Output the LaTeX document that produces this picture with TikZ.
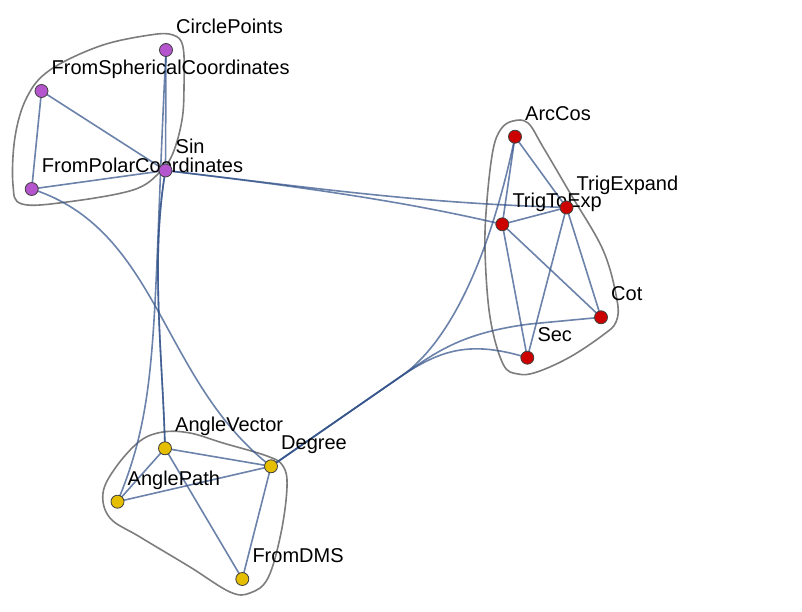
\documentclass[tikz,border=0pt]{standalone}
\usepackage{fontspec}
\setmainfont{Liberation Sans}
\definecolor{edgec}{RGB}{50,82,138}
\definecolor{hullc}{RGB}{125,125,125}
\definecolor{purp}{RGB}{180,85,205}
\definecolor{redn}{RGB}{205,0,0}
\definecolor{yelln}{RGB}{230,190,0}
\pgfdeclarelayer{hulls}
\pgfdeclarelayer{edges}
\pgfdeclarelayer{labels}
\pgfsetlayers{hulls,edges,labels,main}
\begin{document}
\begin{tikzpicture}[x=1pt,y=-1pt,
  edge/.style={draw=edgec, line width=1.6pt, draw opacity=0.72},
  hull/.style={draw=hullc, line width=1.6pt},
  vert/.style={circle, draw=black!75, line width=0.8pt, minimum size=13pt, inner sep=0pt},
  lab/.style={anchor=base west, inner sep=0pt, font=\fontsize{20}{23}\selectfont}]
\useasboundingbox (0,0) rectangle (802,612);
% vertices
\node[vert, fill=purp] (cp) at (166,50) {};
\node[vert, fill=purp] (fs) at (41.5,91) {};
\node[vert, fill=purp] (fp) at (31.7,189) {};
\node[vert, fill=purp] (sin) at (165.5,170.5) {};
\node[vert, fill=redn] (ac) at (515,136.7) {};
\node[vert, fill=redn] (tx) at (566.5,207.5) {};
\node[vert, fill=redn] (te) at (502.3,224.3) {};
\node[vert, fill=redn] (cot) at (601,317.3) {};
\node[vert, fill=redn] (sec) at (527.3,357.7) {};
\node[vert, fill=yelln] (av) at (165,448.3) {};
\node[vert, fill=yelln] (deg) at (271,466.3) {};
\node[vert, fill=yelln] (ap) at (117.5,501.7) {};
\node[vert, fill=yelln] (dms) at (242.3,579) {};
% labels
\begin{pgfonlayer}{labels}
\node[lab] (lcp) at ([shift={(10,-16.5)}]cp.center) {CirclePoints};
\node[lab] (lfs) at ([shift={(10,-16.5)}]fs.center) {FromSphericalCoordinates};
\node[lab] (lfp) at ([shift={(10,-16.5)}]fp.center) {FromPolarCoordinates};
\node[lab] (lsin) at ([shift={(10,-16.5)}]sin.center) {Sin};
\node[lab] (lac) at ([shift={(10,-16.5)}]ac.center) {ArcCos};
\node[lab] (ltx) at ([shift={(10,-16.5)}]tx.center) {TrigExpand};
\node[lab] (lte) at ([shift={(10,-16.5)}]te.center) {TrigToExp};
\node[lab] (lcot) at ([shift={(10,-16.5)}]cot.center) {Cot};
\node[lab] (lsec) at ([shift={(10,-16.5)}]sec.center) {Sec};
\node[lab] (lav) at ([shift={(10,-16.5)}]av.center) {AngleVector};
\node[lab] (ldeg) at ([shift={(10,-16.5)}]deg.center) {Degree};
\node[lab] (lap) at ([shift={(10,-16.5)}]ap.center) {AnglePath};
\node[lab] (ldms) at ([shift={(10,-16.5)}]dms.center) {FromDMS};
\end{pgfonlayer}
% hulls
\begin{pgfonlayer}{hulls}
\draw[hull] plot[smooth cycle, tension=0.6] coordinates {(150,35) (173,35) (183,47) (184,87) (182,120) (173,153) (160,172) (133,190) (67,202) (22,204) (13,185) (15,137) (27,97) (50,70) (100,46)};
\draw[hull] plot[smooth cycle, tension=0.6] coordinates {(513,121) (528,123) (543,147) (570,193) (603,250) (617,300) (616,322) (603,335) (570,357) (537,372) (518,374) (503,364) (490,317) (485,250) (487,200) (493,150) (501,129)};
\draw[hull] plot[smooth cycle, tension=0.6] coordinates {(163,432) (190,433) (223,443) (267,456) (283,466) (287,487) (281,533) (268,578) (250,593) (230,592) (190,567) (140,537) (110,518) (103,493) (116,467) (140,441)};
\end{pgfonlayer}
% edges
\begin{pgfonlayer}{edges}
% purple cluster
\draw[edge] (fs.center) -- (fp.center);
\draw[edge] (fs.center) -- (sin.center);
\draw[edge] (fp.center) -- (sin.center);
\draw[edge] (cp.center) -- (sin.center);
% red cluster
\draw[edge] (ac.center) -- (te.center);
\draw[edge] (ac.center) -- (tx.center);
\draw[edge] (te.center) -- (tx.center);
\draw[edge] (te.center) -- (cot.center);
\draw[edge] (te.center) -- (sec.center);
\draw[edge] (tx.center) -- (sec.center);
\draw[edge] (tx.center) -- (cot.center);
% yellow cluster
\draw[edge] (av.center) -- (deg.center);
\draw[edge] (av.center) -- (ap.center);
\draw[edge] (av.center) -- (dms.center);
\draw[edge] (ap.center) -- (deg.center);
\draw[edge] (deg.center) -- (dms.center);
% between clusters
\draw[edge] (sin.center) .. controls (150,260) and (163,360) .. (av.center);
\draw[edge] (sin.center) .. controls (150,260) and (163,360) .. (av.center);
\draw[edge] (cp.center) .. controls (152,330) and (160,400) .. (ap.center);
\draw[edge] (fp.center) .. controls (160,230) and (160,380) .. (deg.center);
\draw[edge] (sin.center) .. controls (330,190) and (420,205) .. (te.center);
\draw[edge] (sin.center) .. controls (330,190) and (420,203) .. (tx.center);
\draw[edge] (deg.center) -- (400,377) .. controls (440,350) and (485,280) .. (ac.center);
\draw[edge] (deg.center) -- (400,377) .. controls (435,353) and (460,333) .. (530,324) -- (cot.center);
\draw[edge] (deg.center) -- (400,377) .. controls (440,350) and (470,340) .. (sec.center);
\end{pgfonlayer}
\end{tikzpicture}
\end{document}
